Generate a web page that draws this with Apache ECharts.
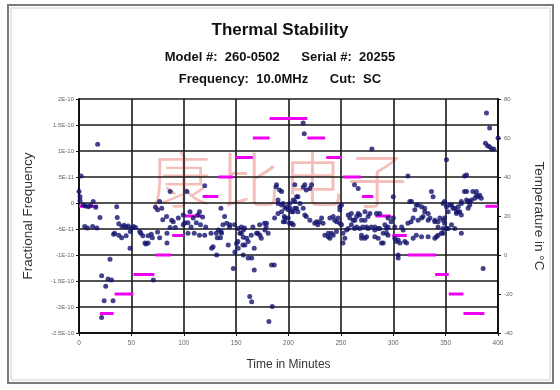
<!DOCTYPE html>
<html>
<head>
<meta charset="utf-8">
<script src="https://cdn.jsdelivr.net/npm/echarts@6/dist/echarts.min.js"></script>
<style>html,body{margin:0;padding:0;background:#fff;}#c{width:560px;height:390px;}</style>
</head>
<body>
<div id="c"></div>
<script>
// ---- data ----
const xTicks = [0, 50, 100, 150, 200, 250, 300, 350, 400];
const freqTicks = [20, 15, 10, 5, 0, -5, -10, -15, -20, -25]; // in units of 1E-11
const freqTickLabels = ['2E-10', '1.5E-10', '1E-10', '5E-11', '0', '-5E-11', '-1E-10', '-1.5E-10', '-2E-10', '-2.5E-10'];
const tempTicks = [80, 60, 40, 20, 0, -20, -40];

// temperature plateaus (minutes start, minutes end, deg C)
const tempStart = [0, 20, 34, 52, 73, 89, 101, 118, 133, 149, 166, 182, 218, 236, 252, 270, 283, 299, 314, 340, 353, 367, 388];
const tempEnd   = [18, 33, 52, 72, 88, 100, 117, 133, 147, 166, 182, 218, 235, 251, 269, 281, 298, 313, 341, 353, 367, 387, 400];
const tempLevel = [25, -30, -20, -10, 0, 10, 20, 30, 40, 50, 60, 70, 60, 50, 40, 30, 20, 10, 0, -10, -20, -30, 25];

// fractional frequency samples: [minutes, value in 1E-11]
const freqData = [
[0,2.2],[1,1.2],[2,5.2],[1,0.5],[4,-0.4],[9,-0.7],[13.6,0.3],[6,-0.6],[11,-0.5],[16,-0.8],[5.4,-4.5],[8,-4.8],[13,-4.5],[17,-4.8],[17.8,11.3],[20,-2.8],
[21.6,-14],[21.6,-22],[24,-18.8],[25.5,-16],[27.7,-14.6],[29.6,-10.8],[31,-14.8],[32.5,-18.8],
[34,-5.8],[36,-0.7],[36.5,-2.8],[38,-4],[40.7,-6.7],[41,-4.5],[43,-4.3],[45,-4.6],[47,-4.4],[33,-6],[38,-6.2],[45,-6.3],[48.7,-8.7],[49,-5.5],[50,-4.8],[52,-4.5],[54,-4.7],
[58,-5.5],[59,-5.8],[61,-6.3],[63,-7.7],[66,-7.7],[66,-6.3],[69,-6],[64,-7.9],[70,-6.7],[71,-14.8],[73,-0.8],[75,-1.3],[75,-5.6],[77,0.3],[77,-6.7],[79,-1],
[80,-3.2],[83.6,-2.6],[84,-5.8],[84,-7.7],[87,2.2],[87,-4.7],[88.4,-3.3],[92,-4.7],[90,-3.6],[94.8,-2.9],[99.5,-2.3],[99.5,-4.2],[101,-3.8],
[103,2.2],[104,-3.8],[104,-5.8],[106,-1.7],[107,-4.6],[109,-2.9],[110,-5.8],[112,-3.8],[113.5,-2.3],[115,-1.7],[115,-6.2],[116,-4.2],[118,-2.7],[120,3.3],[120,-6.2],[121,-4.6],[126,-5.8],[126.6,-8.7],[128,-8.4],[131,-5.8],[131.4,-10],
[132,-6.7],[133,-5.2],[135,-6.7],[135.5,-1],[135.6,-5.5],[136,-5.8],[137.4,-4.2],[139,-2.6],[141,-3.9],[142.5,-8.1],[143.7,-4.6],[144,-4.2],[147.3,-12.6],[148.5,-4.2],[148.8,-9.4],[150.4,-7.8],[151.7,-7.4],
[152,-4.9],[152,-8.7],[153.6,-5.8],[155,-4.6],[155,-5.8],[156.5,-8.1],[156.8,-10],[156.8,-6.6],[157,-5.2],[158,-4.8],[158.4,-8.1],[160,-6.8],[161.5,-7.4],[161.5,-10.6],[163,-18],[164.4,-6.2],[164.8,-10.6],[164.8,-19],
[166,-4.6],[167.3,-8.7],[167.3,-12.9],[169.5,-5.8],[170.8,-5.8],[172.4,-4.2],[172.7,-6.2],[174,-6.8],[177,-3.9],[177.5,-5.2],[178.6,-4.6],[179,-3.9],[180.6,-5.8],[181.3,-22.8],[183.8,-11.9],[184.5,-19.9],[186.4,-11.9],
[186.7,-2.9],[188,3.1],[188.6,3.5],[190,-2],[190,0.6],[190,-0.1],[191.5,2.5],[193.4,2.2],[193.4,-0.4],[193.4,-1.7],[194.7,-0.1],[195,-3.6],[196,-2.6],[196.6,-1],[196.6,-2.9],[196.6,-3.6],[198,-0.7],
[199.7,-1.3],[199.7,-2.9],[201,-0.1],[201,-3.9],[201.4,-1],[203,-1.7],[203,-3.9],[204.5,0.6],[204.5,-1.7],[204.5,-4.2],[206,3.5],[206,0.3],[206,-1],[207.7,1.2],[207.7,-1],[209,1.2],[209,-1.7],[211,-0.1],
[214,15.4],[215,13.3],[214,3.1],[214,-1],[215.6,3.5],[215.6,-2.3],[217,2.5],[217,-2.6],[220.4,2.8],[220.4,-3.3],[222,3.5],[225,-3.9],[226.8,-3.6],[228,-4.2],[229.7,-3.6],[231.6,-2.9],[233,-3.9],
[234.7,-6.2],[238,-6.5],[238,-5.8],[239.5,-2.9],[239.5,-6.8],[241,-5.8],[242.7,-2.6],[242.7,-6.2],[244,-3.3],[245.8,-5.5],[246,-3.6],[247.4,-2.9],[249,-0.7],[249,-1.3],[249,-3.9],[250.6,-0.4],[250.6,-4.2],
[252,-5.8],[252,-7.7],[253.8,-6.8],[255.4,-5.2],[257,-2.3],[257,-4.9],[258.6,-2.9],[260,-2],[260,-4.2],[261.8,-3.3],[263,3.5],[263.4,-3.3],[263,-4.9],[266.5,2.8],[266.5,-2],[265,-2.6],[265,-4.6],
[268,-2.3],[268,-4.9],[269.7,-3.3],[269.7,-6.2],[269.7,-6.8],[271,-4.6],[273,-1.7],[273,-3.3],[273,-6.8],[274.5,-4.6],[274.5,-6.5],[276,-2.6],[276,-4.9],[277.7,-2],[279,-4.6],[279.6,10.4],
[282.4,-4.6],[282.4,-5.2],[282.4,-6.5],[284,-2],[285.6,-4.9],[285.6,-6.8],[287,-2],[287,-4.9],[288.8,-7.7],[290.4,-5.8],[290.4,-7.7],[292,-4.2],[293.6,-4.9],[293.6,-5.8],[295,-2.9],[295,-4.6],[295,-6.2],[298,-3.6],
[300,1.2],[300,-2.9],[301.5,-4.6],[301.5,-6.8],[303,-7.4],[304.7,-7.1],[304.7,-10],[304.7,-10.6],[306.3,-7.7],[308,-4.6],[309.5,-5.2],[311,-7.4],[312.7,-7.7],[314,5.2],[314,-3.9],[315.8,0.3],[317,-3.6],[317.4,0.3],
[319,-2.9],[319,-6.8],[320.6,-1.3],[322,-0.4],[322,-6.2],[323.7,-3.3],[323.7,-0.4],[327,-0.7],[327,-2.9],[327,-6.5],[328.5,-2.6],[330,-1],[330,-1.7],[333.3,-2],[333.3,-3.3],[333.3,-6.5],[335,-2.9],
[336.5,2.2],[338,1.2],[339.7,-3.3],[339.7,-3.6],[339.7,-6.8],[341.2,-6.5],[342.8,-3.6],[342.8,-4.6],[342.8,-6.2],[344.5,-2.9],[346,-5.8],[347.6,-0.1],[347.6,-3.3],[347.6,-4.9],[347.6,-5.8],[349,0.3],[349,-2.9],[349,-3.9],
[350.8,8.3],[350.8,-0.7],[350.8,-4.9],[352.4,-1.7],[352.4,-4.9],[354,-0.4],[355.6,-0.4],[355.6,-4.2],[357,-1],[358.8,-1],[358.8,-4.9],[360.4,-1.7],[360.4,-2],[362,-0.7],[362,-1.7],[363.5,-1.7],[365,-0.1],[365,0.3],[365,-2.3],[365,-5.8],
[368,2.2],[368,5.2],[370,5.4],[370,2.2],[370,0.6],[371.5,0.3],[371.5,-1],[373,0.3],[373,-0.4],[374.7,0.6],[376,2.2],[377.9,0.9],[379.4,2.2],[379.4,1.5],[381,1.2],[382.6,1.5],[384,0.9],[385.8,-12.6],
[388,11.5],[389,17.3],[390,11],[392,14.4],[392,10.8],[394,10.4],[396,10.4],[400,12.5]
];

const watermarkChars = ['康', '比', '电', '子'];

// ---- build ----
const chart = echarts.init(document.getElementById('c'), null, {renderer: 'canvas'});
const FONT = 'Liberation Sans, Arial, sans-serif';

const tempSeries = tempStart.map((s, i) => ({
  type: 'line',
  yAxisIndex: 1,
  data: [[s, tempLevel[i]], [tempEnd[i], tempLevel[i]]],
  showSymbol: false,
  symbol: 'none',
  lineStyle: {color: '#f000f0', width: 3},
  silent: true,
  animation: false,
  z: 3
}));

const wmX = [151, 220, 283, 347];
const watermark = watermarkChars.map((ch, i) => ({
  type: 'text', left: wmX[i], top: 150, z: 0,
  style: {text: ch, fontFamily: 'Noto Sans CJK SC', fontSize: 60, fontWeight: 300, fill: 'rgba(232,100,90,0.42)'}
}));

const option = {
  backgroundColor: '#ffffff',
  animation: false,
  title: [
    {text: 'Thermal Stability', left: 'center', top: 17,
     textStyle: {fontFamily: FONT, fontSize: 17, fontWeight: 'bold', color: '#111'}},
    {text: 'Model #:  260-0502      Serial #:  20255', left: 'center', top: 46,
     textStyle: {fontFamily: FONT, fontSize: 13, fontWeight: 'bold', color: '#111'}},
    {text: 'Frequency:  10.0MHz      Cut:  SC', left: 'center', top: 68,
     textStyle: {fontFamily: FONT, fontSize: 13, fontWeight: 'bold', color: '#111'}}
  ],
  graphic: [
    {type: 'rect', shape: {x: 8, y: 5, width: 545, height: 378}, style: {fill: 'none', stroke: '#7a7a7a', lineWidth: 2}, z: 0},
    {type: 'rect', shape: {x: 11, y: 8, width: 539, height: 372}, style: {fill: 'none', stroke: '#d0d0d0', lineWidth: 1}, z: 0},
    ...watermark
  ],
  grid: {left: 79, right: 62, top: 99, bottom: 57, show: false},
  xAxis: {
    type: 'value', min: 0, max: 400, interval: 50,
    name: 'Time in Minutes', nameLocation: 'middle', nameGap: 26,
    nameTextStyle: {fontFamily: FONT, fontSize: 12, color: '#333'},
    axisLine: {show: true, onZero: false, lineStyle: {color: '#111', width: 2}},
    axisTick: {show: true, length: 3, lineStyle: {color: '#111', width: 1}},
    axisLabel: {fontFamily: FONT, fontSize: 6.5, color: '#666', margin: 7,
      formatter: v => xTicks.includes(v) ? String(v) : ''},
    splitLine: {show: true, lineStyle: {color: '#1a1a1a', width: 1.6}}
  },
  yAxis: [
    {
      type: 'value', min: -25, max: 20, interval: 5, position: 'left',
      name: 'Fractional Frequency', nameLocation: 'middle', nameGap: 44,
      nameTextStyle: {fontFamily: FONT, fontSize: 13.5, color: '#333'},
      axisLine: {show: true, lineStyle: {color: '#111', width: 2}},
      axisTick: {show: true, length: 3, lineStyle: {color: '#111', width: 1}},
      axisLabel: {fontFamily: FONT, fontSize: 6, color: '#666', margin: 5,
        formatter: v => { const i = freqTicks.indexOf(Math.round(v)); return i >= 0 ? freqTickLabels[i] : ''; }},
      splitLine: {show: true, lineStyle: {color: '#1a1a1a', width: 1.6}}
    },
    {
      type: 'value', min: -40, max: 80, interval: 20, position: 'right',
      name: 'Temperature in °C', nameLocation: 'middle', nameGap: 34, nameRotate: -90,
      nameTextStyle: {fontFamily: FONT, fontSize: 13.5, color: '#333'},
      axisLine: {show: true, lineStyle: {color: '#111', width: 2}},
      axisTick: {show: true, length: 3, lineStyle: {color: '#111', width: 1}},
      axisLabel: {fontFamily: FONT, fontSize: 6, color: '#666', margin: 6,
        formatter: v => tempTicks.includes(v) ? String(v) : ''},
      splitLine: {show: false}
    }
  ],
  series: [
    ...tempSeries,
    {
      type: 'scatter', yAxisIndex: 0,
      data: freqData,
      symbol: 'circle', symbolSize: 5,
      itemStyle: {color: '#14146e'},
      silent: true, z: 4
    }
  ]
};
chart.setOption(option);
</script>
</body>
</html>
